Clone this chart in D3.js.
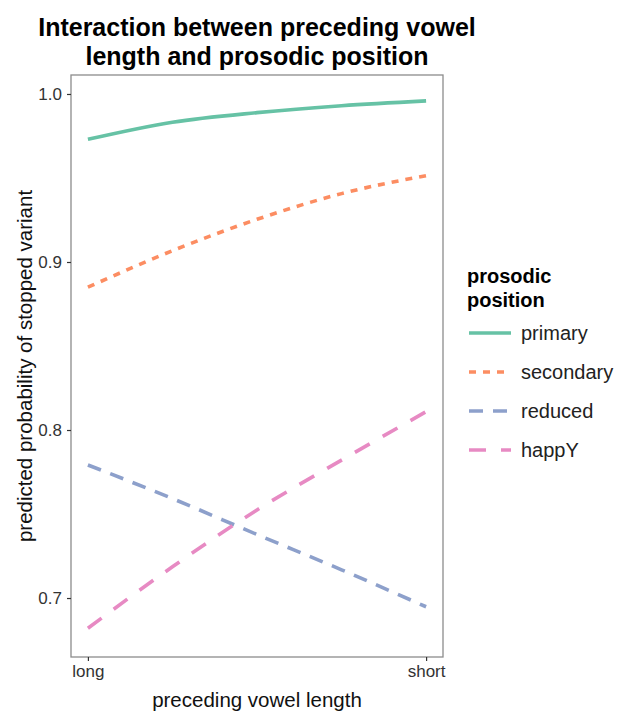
<!DOCTYPE html>
<html><head><meta charset="utf-8">
<script src="https://cdn.jsdelivr.net/npm/d3@7"></script>
<style>
body{margin:0;background:#fff;}
svg text{font-family:"Liberation Sans",Arial,sans-serif;}
</style></head>
<body>
<svg id="chart" width="619" height="711"></svg>
<script>
// ---- data ----
const vowelPositions = [0, 0.25, 0.5, 0.75, 1];          // long -> short
const xTickValues = [0, 1];
const xTickLabels = ["long", "short"];
const yTickValues = [0.7, 0.8, 0.9, 1.0];
const seriesNames = ["primary", "secondary", "reduced", "happY"];
const primary   = [0.973, 0.9832, 0.9889, 0.9930, 0.9959];
const secondary = [0.885, 0.9067, 0.9254, 0.9407, 0.9514];
const reduced   = [0.7792, 0.7592, 0.7378, 0.7168, 0.6948];
const happY     = [0.682, 0.7186, 0.7524, 0.7821, 0.8109];
const seriesValues = [primary, secondary, reduced, happY];
const seriesColors = ["#66C2A5", "#FC8D62", "#8DA0CB", "#E78AC3"];
const seriesDash = [null, "7,7", "14,10", "17,15"];

const svg = d3.select("#chart");
const panel = {left: 71, right: 443, top: 75, bottom: 657};

const x = d3.scaleLinear().domain([-0.05, 1.05]).range([panel.left, panel.right]);
const y = d3.scaleLinear().domain([0.6649, 1.0113]).range([panel.bottom, panel.top]);

// title (two lines)
const titleLines = ["Interaction between preceding vowel", "length and prosodic position"];
titleLines.forEach((t, i) => {
  svg.append("text").attr("text-anchor", "middle")
    .attr("x", (panel.left + panel.right) / 2).attr("y", 35.5 + i * 29)
    .attr("font-size", 25).attr("font-weight", "bold").attr("fill", "#000")
    .text(t);
});

// lines
const line = d3.line().x(d => x(d[0])).y(d => y(d[1])).curve(d3.curveMonotoneX);
seriesNames.forEach((name, i) => {
  const pts = vowelPositions.map((v, j) => [v, seriesValues[i][j]]);
  svg.append("path").datum(pts).attr("d", line)
    .attr("fill", "none").attr("stroke", seriesColors[i])
    .attr("stroke-width", 3.6)
    .attr("stroke-dasharray", seriesDash[i]);
});

// panel border
svg.append("rect").attr("x", panel.left).attr("y", panel.top)
  .attr("width", panel.right - panel.left).attr("height", panel.bottom - panel.top)
  .attr("fill", "none").attr("stroke", "#8c8c8c").attr("stroke-width", 1.3);

// y axis
const yAxis = d3.axisLeft(y).tickValues(yTickValues).tickFormat(d3.format(".1f")).tickSize(4).tickPadding(5);
const gy = svg.append("g").attr("transform", `translate(${panel.left},0)`).call(yAxis);
gy.select(".domain").remove();
gy.selectAll(".tick line").attr("stroke", "#333").attr("stroke-width", 1.2);
gy.selectAll(".tick text").attr("font-size", 17).attr("fill", "#333")
  .style("font-family", "Liberation Sans, Arial, sans-serif");

// x axis
const xAxis = d3.axisBottom(x).tickValues(xTickValues).tickFormat((d, i) => xTickLabels[i]).tickSize(4).tickPadding(4);
const gx = svg.append("g").attr("transform", `translate(0,${panel.bottom})`).call(xAxis);
gx.select(".domain").remove();
gx.selectAll(".tick line").attr("stroke", "#333").attr("stroke-width", 1.2);
gx.selectAll(".tick text").attr("font-size", 17).attr("fill", "#333")
  .style("font-family", "Liberation Sans, Arial, sans-serif");

// axis titles
svg.append("text").attr("x", (panel.left + panel.right) / 2).attr("y", 707)
  .attr("text-anchor", "middle").attr("font-size", 20.5).attr("fill", "#111")
  .text("preceding vowel length");
svg.append("text").attr("transform", `translate(32,${(panel.top + panel.bottom) / 2}) rotate(-90)`)
  .attr("text-anchor", "middle").attr("font-size", 20.5).attr("fill", "#111")
  .text("predicted probability of stopped variant");

// legend
const lg = svg.append("g");
const legendTitle = ["prosodic", "position"];
legendTitle.forEach((t, i) => {
  lg.append("text").attr("x", 467).attr("y", 283 + i * 24)
    .attr("font-size", 20).attr("font-weight", "bold").attr("fill", "#000").text(t);
});
seriesNames.forEach((name, i) => {
  const yy = 333 + i * 39;
  lg.append("line").attr("x1", 469).attr("x2", 511).attr("y1", yy).attr("y2", yy)
    .attr("stroke", seriesColors[i]).attr("stroke-width", 3.6)
    .attr("stroke-dasharray", seriesDash[i]);
  lg.append("text").attr("x", 521).attr("y", yy).attr("dy", "0.35em")
    .attr("font-size", 20).attr("fill", "#222").text(name);
});
</script>
</body></html>
